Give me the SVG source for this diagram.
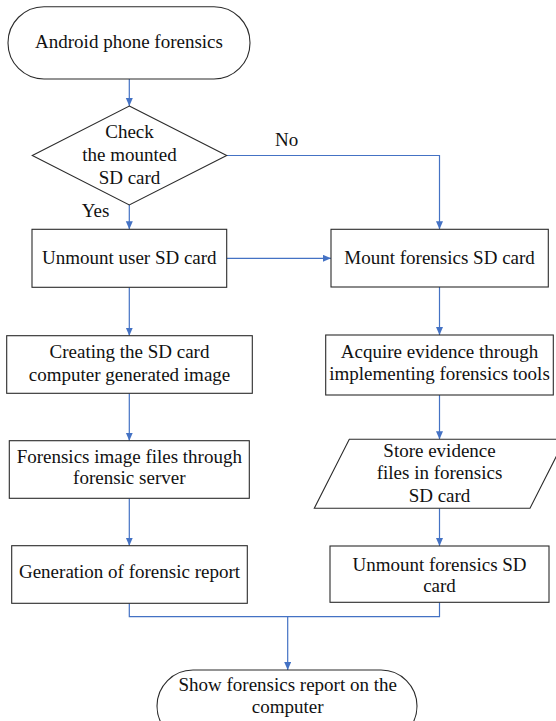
<svg xmlns="http://www.w3.org/2000/svg" width="556" height="721" viewBox="0 0 556 721">
<style>
.shape{fill:#ffffff;stroke:#2b2b2b;stroke-width:1.1}
.conn{fill:none;stroke:#4472C4;stroke-width:1.2}
text{font-family:'Liberation Serif','Times New Roman',serif;font-size:19px;fill:#111111}
.c{text-anchor:middle}
</style>
<defs>
<marker id="arr" markerUnits="userSpaceOnUse" markerWidth="9" markerHeight="8" refX="8" refY="3.5" orient="auto">
<path d="M0,0 L8,3.5 L0,7 z" fill="#4472C4"/>
</marker>
</defs>
<rect width="556" height="721" fill="#ffffff"/>
<g id="connectors">
<path class="conn" d="M129.3,79 V106" marker-end="url(#arr)"/>
<path class="conn" d="M129.3,205 V229.3" marker-end="url(#arr)"/>
<path class="conn" d="M226.7,155.5 H439.5 V229.3" marker-end="url(#arr)"/>
<path class="conn" d="M226.7,258.3 H331" marker-end="url(#arr)"/>
<path class="conn" d="M129.3,287.3 V335.7" marker-end="url(#arr)"/>
<path class="conn" d="M129.3,393.3 V440.7" marker-end="url(#arr)"/>
<path class="conn" d="M129.3,498.3 V545.7" marker-end="url(#arr)"/>
<path class="conn" d="M439.5,287 V335" marker-end="url(#arr)"/>
<path class="conn" d="M439.5,395 V439.3" marker-end="url(#arr)"/>
<path class="conn" d="M439.5,508.3 V546" marker-end="url(#arr)"/>
<path class="conn" d="M129.3,603.3 V616.7 H439.5 V602.3"/>
<path class="conn" d="M287.7,616.7 V670" marker-end="url(#arr)"/>
<text x="275" y="146">No</text>
<text x="81.7" y="216.7">Yes</text>
</g>
<g id="start">
<rect class="shape" x="8" y="6.7" width="242" height="72.3" rx="36" ry="36"/>
<text class="c" x="129" y="47.7">Android phone forensics</text>
</g>
<g id="check">
<polygon class="shape" points="129.3,106 226.7,155.5 129.3,205 32.3,155.5"/>
<text class="c" x="129.5" y="138">Check</text>
<text class="c" x="129.5" y="161">the mounted</text>
<text class="c" x="129.5" y="184">SD card</text>
</g>
<g id="unmount-user">
<rect class="shape" x="32" y="229.3" width="194.7" height="58"/>
<text class="c" x="129.3" y="264">Unmount user SD card</text>
</g>
<g id="mount-forensics">
<rect class="shape" x="331" y="229.3" width="217.3" height="57.7"/>
<text class="c" x="439.6" y="264">Mount forensics SD card</text>
</g>
<g id="creating">
<rect class="shape" x="6.7" y="335.7" width="245.6" height="57.6"/>
<text class="c" x="129.5" y="358.3">Creating the SD card</text>
<text class="c" x="129.5" y="380.7">computer generated image</text>
</g>
<g id="forensics-image">
<rect class="shape" x="9.3" y="440.7" width="240" height="57.6"/>
<text class="c" x="129.3" y="462.7">Forensics image files through</text>
<text class="c" x="129.3" y="484.3">forensic server</text>
</g>
<g id="generation">
<rect class="shape" x="11.7" y="545.7" width="235.6" height="57.6"/>
<text class="c" x="129.5" y="578.3">Generation of forensic report</text>
</g>
<g id="acquire">
<rect class="shape" x="325.7" y="335" width="227.6" height="60"/>
<text class="c" x="439.5" y="357.7">Acquire evidence through</text>
<text class="c" x="439.5" y="380">implementing forensics tools</text>
</g>
<g id="store">
<polygon class="shape" points="349.3,439.3 565,439.3 530,508.3 314.3,508.3"/>
<text class="c" x="439.5" y="457.3">Store evidence</text>
<text class="c" x="439.5" y="479.3">files in forensics</text>
<text class="c" x="439.5" y="501.7">SD card</text>
</g>
<g id="unmount-forensics">
<rect class="shape" x="330" y="546" width="219" height="56.3"/>
<text class="c" x="439.5" y="570.7">Unmount forensics SD</text>
<text class="c" x="439.5" y="592">card</text>
</g>
<g id="show-report">
<rect class="shape" x="157" y="670" width="260" height="72" rx="36" ry="36"/>
<text class="c" x="287.7" y="690.7">Show forensics report on the</text>
<text class="c" x="287.7" y="712.7">computer</text>
</g>
</svg>
